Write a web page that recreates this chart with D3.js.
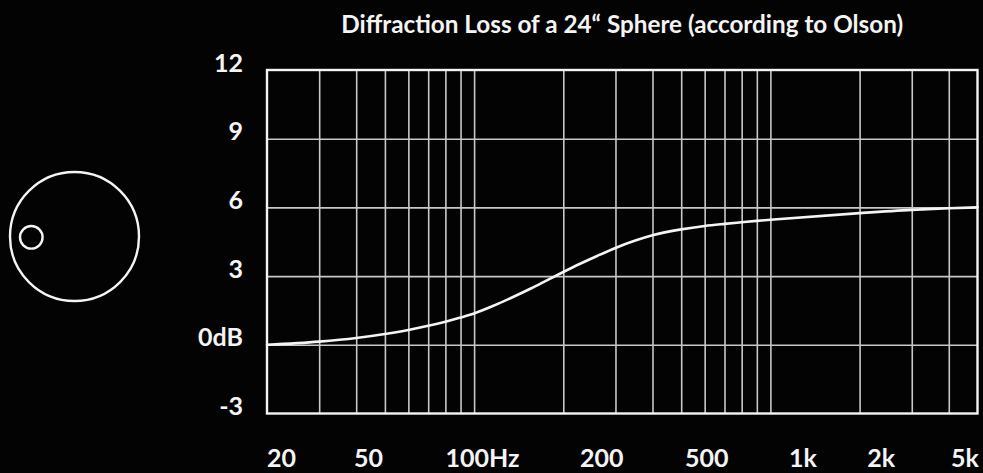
<!DOCTYPE html>
<html>
<head>
<meta charset="utf-8">
<script src="https://cdn.jsdelivr.net/npm/d3@7/dist/d3.min.js"></script>
<style>
  html, body { margin: 0; padding: 0; background: #030303; }
  svg { display: block; }
</style>
</head>
<body>
<svg id="chart" width="983" height="473"></svg>
<script>
// ---- data ----
const title = "Diffraction Loss of a 24\u201C Sphere (according to Olson)";
const gridFreqs = [30, 40, 50, 60, 70, 80, 90, 100, 200, 300, 400, 500, 600, 700, 800, 900, 1000, 2000, 3000, 4000];
const gridDb = [0, 3, 6, 9];
const freqLabelValues = [20, 50, 100, 200, 500, 1000, 2000, 5000];
const freqLabels = ["20", "50", "100Hz", "200", "500", "1k", "2k", "5k"];
const dbLabelValues = [12, 9, 6, 3, 0, -3];
const dbLabels = ["12", "9", "6", "3", "0dB", "-3"];
const curveFreq = [20, 30, 40, 50, 60, 70, 80, 90, 100, 117, 137, 156, 178, 200, 228, 260, 300, 350, 400, 500, 600, 700, 800, 900, 1000, 2000, 3000, 4000, 5000];
const curveDb   = [0, 0.14, 0.30, 0.475, 0.65, 0.83, 1.01, 1.19, 1.37, 1.72, 2.12, 2.47, 2.85, 3.18, 3.54, 3.88, 4.23, 4.55, 4.78, 5.04, 5.19, 5.28, 5.35, 5.41, 5.46, 5.75, 5.89, 5.96, 6.0];

// ---- layout (kept apart from data) ----
const plot = { left: 267, right: 977.5, top: 70, bottom: 413.5 };
const tickLabelDx = [14, -17, 8, 38, 25, 32, 21, -13];
const fg = "#f4f4f4";
const gridColor = "#c8c8c8";

const svg = d3.select("#chart");
svg.append("rect").attr("width", 983).attr("height", 473).attr("fill", "#030303");

const x = d3.scaleLog().domain([20, 5000]).range([plot.left, plot.right]);
const y = d3.scaleLinear().domain([-3, 12]).range([plot.bottom, plot.top]);

// vertical grid via axis
const gx = svg.append("g")
  .attr("transform", `translate(0,${plot.bottom})`)
  .call(d3.axisBottom(x).tickValues(gridFreqs).tickSize(-(plot.bottom - plot.top)).tickFormat(""));
gx.select(".domain").remove();
gx.selectAll("line").attr("stroke", gridColor).attr("stroke-width", 1.6);

// horizontal grid via axis
const gy = svg.append("g")
  .attr("transform", `translate(${plot.left},0)`)
  .call(d3.axisLeft(y).tickValues(gridDb).tickSize(-(plot.right - plot.left)).tickFormat(""));
gy.select(".domain").remove();
gy.selectAll("line").attr("stroke", gridColor).attr("stroke-width", 1.6);

// frame
svg.append("rect")
  .attr("x", plot.left).attr("y", plot.top)
  .attr("width", plot.right - plot.left).attr("height", plot.bottom - plot.top)
  .attr("fill", "none").attr("stroke", fg).attr("stroke-width", 2.4);

// curve
const line = d3.line()
  .x((d, i) => x(curveFreq[i]))
  .y(d => y(d))
  .curve(d3.curveMonotoneX);
svg.append("path")
  .datum(curveDb)
  .attr("d", line)
  .attr("fill", "none")
  .attr("stroke", fg)
  .attr("stroke-width", 2.6)
  .attr("stroke-linecap", "round");

const font = "Lato, 'Open Sans', sans-serif";

// x tick labels via axis
const ax = svg.append("g")
  .attr("transform", `translate(0,${plot.bottom})`)
  .call(d3.axisBottom(x).tickValues(freqLabelValues).tickSize(0)
    .tickFormat((d, i) => freqLabels[i]));
ax.select(".domain").remove();
ax.selectAll("text")
  .attr("fill", fg)
  .attr("font-family", font)
  .attr("font-weight", 700)
  .attr("font-size", 25)
  .attr("dy", null)
  .attr("y", 53.5)
  .attr("x", (d, i) => tickLabelDx[i]);

// y tick labels via axis
const ay = svg.append("g")
  .attr("transform", `translate(243,0)`)
  .call(d3.axisLeft(y).tickValues(dbLabelValues).tickSize(0).tickPadding(0)
    .tickFormat((d, i) => dbLabels[i]));
ay.select(".domain").remove();
ay.selectAll("text")
  .attr("fill", fg)
  .attr("font-family", font)
  .attr("font-weight", 700)
  .attr("font-size", 25)
  .attr("dy", null)
  .attr("x", 0)
  .attr("y", 1)
  .attr("text-anchor", "end");

// title
const t = svg.append("text")
  .attr("x", (plot.left + plot.right) / 2)
  .attr("y", 33)
  .attr("text-anchor", "middle")
  .attr("fill", fg)
  .attr("font-family", font)
  .attr("font-weight", 700)
  .attr("font-size", 22)
  .text(title);
const w = t.node().getComputedTextLength();
if (w > 0) t.attr("font-size", 22 * 562 / w);

// sphere icon
svg.append("circle").attr("cx", 74.5).attr("cy", 236.5).attr("r", 64.5)
  .attr("fill", "none").attr("stroke", fg).attr("stroke-width", 2.4);
svg.append("circle").attr("cx", 31.3).attr("cy", 237.3).attr("r", 11.3)
  .attr("fill", "none").attr("stroke", fg).attr("stroke-width", 2.4);
</script>
</body>
</html>
